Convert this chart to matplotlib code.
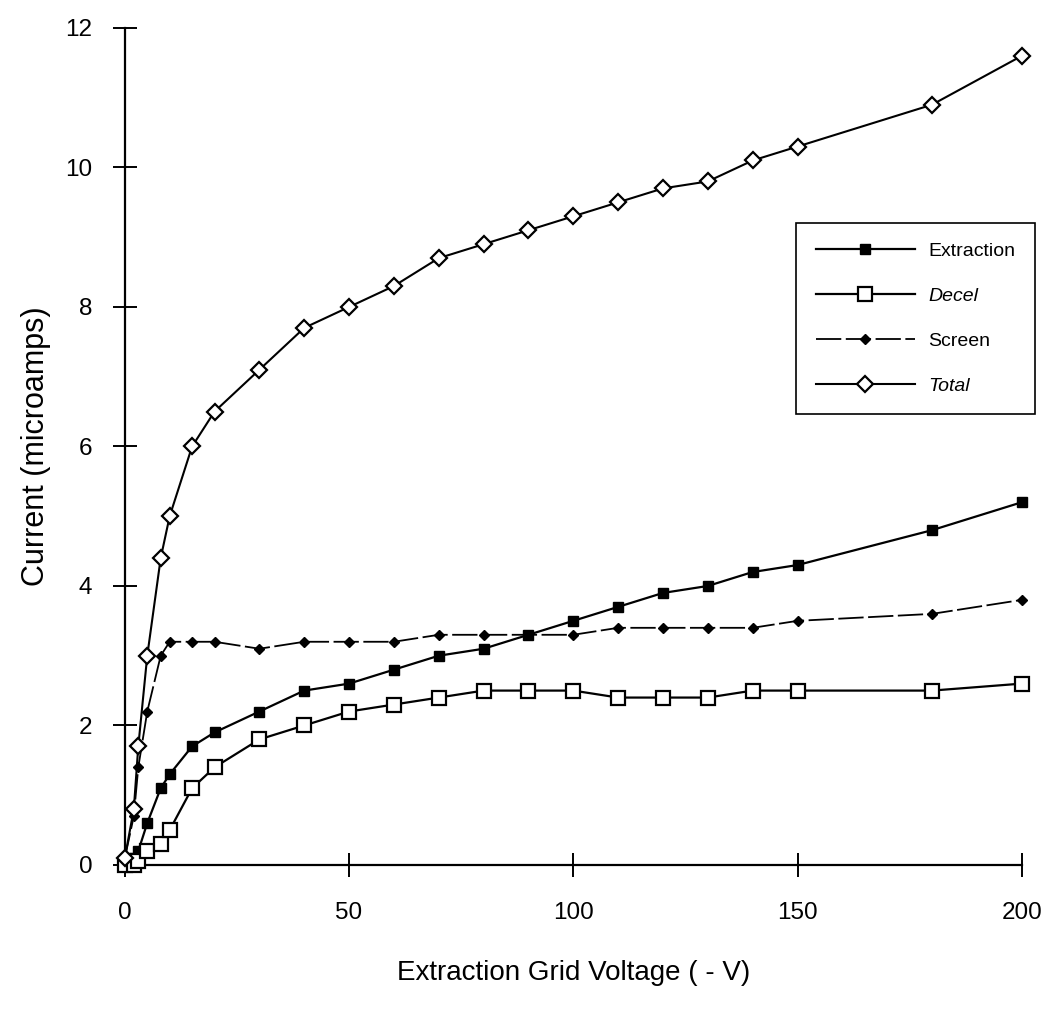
import matplotlib
matplotlib.use("Agg")
import matplotlib.pyplot as plt

plt.rcParams['font.family'] = ['Liberation Sans', 'DejaVu Sans']

voltage = [0, 2, 3, 5, 8, 10, 15, 20, 30, 40, 50, 60, 70, 80, 90, 100,
           110, 120, 130, 140, 150, 180, 200]

extraction = [0.05, 0.1, 0.2, 0.6, 1.1, 1.3, 1.7, 1.9, 2.2, 2.5, 2.6, 2.8, 3.0,
              3.1, 3.3, 3.5, 3.7, 3.9, 4.0, 4.2, 4.3, 4.8, 5.2]
decel = [0.0, 0.0, 0.05, 0.2, 0.3, 0.5, 1.1, 1.4, 1.8, 2.0, 2.2, 2.3, 2.4,
         2.5, 2.5, 2.5, 2.4, 2.4, 2.4, 2.5, 2.5, 2.5, 2.6]
screen = [0.1, 0.7, 1.4, 2.2, 3.0, 3.2, 3.2, 3.2, 3.1, 3.2, 3.2, 3.2, 3.3,
          3.3, 3.3, 3.3, 3.4, 3.4, 3.4, 3.4, 3.5, 3.6, 3.8]
total = [0.1, 0.8, 1.7, 3.0, 4.4, 5.0, 6.0, 6.5, 7.1, 7.7, 8.0, 8.3, 8.7,
         8.9, 9.1, 9.3, 9.5, 9.7, 9.8, 10.1, 10.3, 10.9, 11.6]

fig = plt.figure(figsize=(10.49, 10.10), dpi=100)
ax = fig.add_axes([0.119, 0.1436, 0.855, 0.8287])

ax.plot(voltage, extraction, color='black', lw=1.6, marker='s', ms=7.5,
        mfc='black', mec='black', label='Extraction', zorder=3, clip_on=False)
ax.plot(voltage, decel, color='black', lw=1.6, marker='s', ms=9.5,
        mfc='white', mec='black', mew=1.6, label='Decel', zorder=3, clip_on=False)
ax.plot(voltage, screen, color='black', lw=1.3, ls=(0, (14, 2.5)), marker='D',
        ms=5, mfc='black', mec='black', label='Screen', zorder=3, clip_on=False)
ax.plot(voltage, total, color='black', lw=1.5, marker='D', ms=8,
        mfc='white', mec='black', mew=1.6, label='Total', zorder=4, clip_on=False)

ax.set_xlim(0, 200)
ax.set_ylim(0, 12)
ax.set_xticks([0, 50, 100, 150, 200])
ax.set_yticks([0, 2, 4, 6, 8, 10, 12])
ax.spines['top'].set_visible(False)
ax.spines['right'].set_visible(False)
for s in ('left', 'bottom'):
    ax.spines[s].set_linewidth(1.6)
ax.tick_params(direction='inout', length=17, width=1.4, labelsize=17.5)
ax.tick_params(axis='x', pad=18)
ax.tick_params(axis='y', pad=15)

ax.set_xlabel('Extraction Grid Voltage ( - V)', fontsize=20, labelpad=26)
ax.set_ylabel('Current (microamps)', fontsize=22, labelpad=10)

leg = ax.legend(loc='upper right', bbox_to_anchor=(1.0145, 0.767), fontsize=14,
                handlelength=5.1, labelspacing=1.4, borderpad=1.0,
                handletextpad=0.7, fancybox=False, framealpha=1,
                edgecolor='black', borderaxespad=0)
leg.get_frame().set_linewidth(1.2)
for t in leg.get_texts():
    if t.get_text() in ('Decel', 'Total'):
        t.set_style('italic')

fig.savefig('out.png', dpi=100)
